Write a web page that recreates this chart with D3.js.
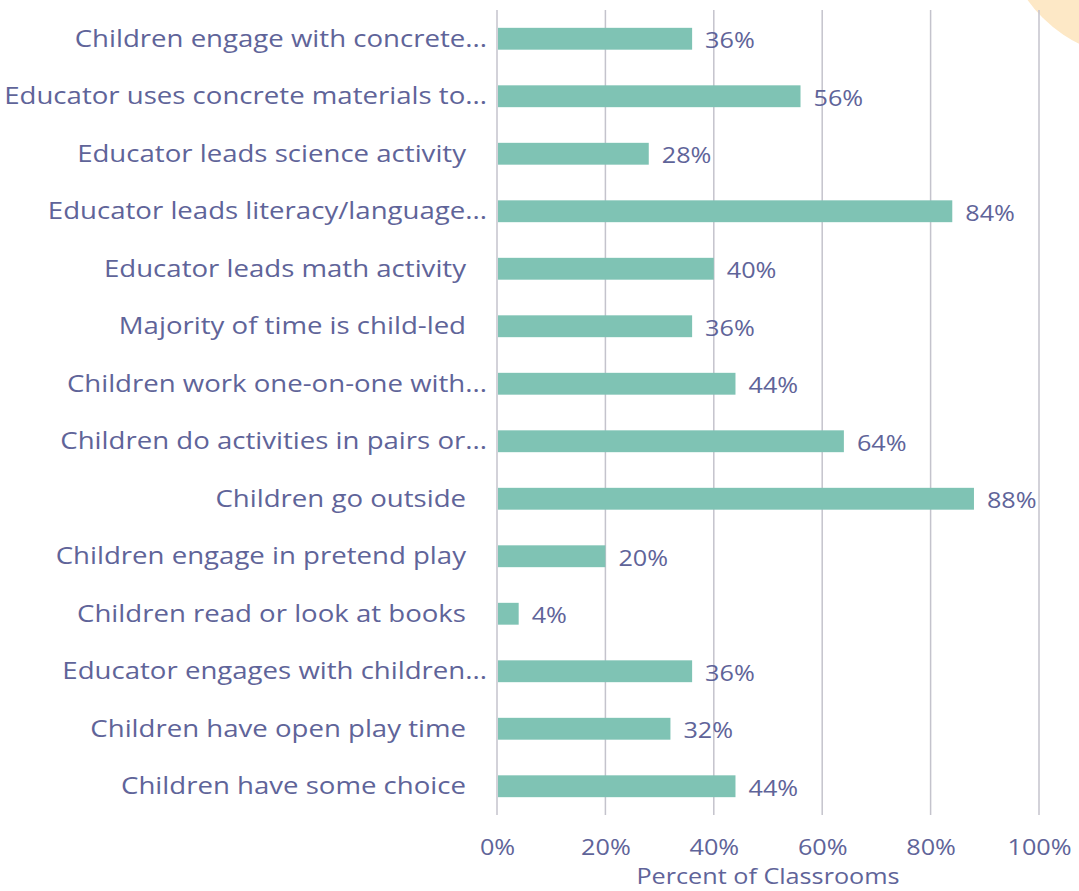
<!DOCTYPE html>
<html>
<head>
<meta charset="utf-8">
<script src="https://cdn.jsdelivr.net/npm/d3@7.9.0/dist/d3.min.js"></script>
<style>
  body { margin: 0; background: #fff; }
  svg { display: block; font-family: "Open Sans", "Noto Sans", sans-serif; }
</style>
</head>
<body>
<svg id="chart" width="1079" height="891"></svg>
<script>
const categories = [
  'Children engage with concrete...',
  'Educator uses concrete materials to...',
  'Educator leads science activity',
  'Educator leads literacy/language...',
  'Educator leads math activity',
  'Majority of time is child-led',
  'Children work one-on-one with...',
  'Children do activities in pairs or...',
  'Children go outside',
  'Children engage in pretend play',
  'Children read or look at books',
  'Educator engages with children...',
  'Children have open play time',
  'Children have some choice'
];
const percents = [36, 56, 28, 84, 40, 36, 44, 64, 88, 20, 4, 36, 32, 44];
const xTicks = [0, 20, 40, 60, 80, 100];

const textColor = '#5f6499';
const stretch = 1.2; // the source font is wide, fake it with a horizontal stretch
const svg = d3.select('#chart');

// peach decoration in top-right corner
svg.append('circle')
  .attr('cx', 1140).attr('cy', -80).attr('r', 138)
  .attr('fill', '#fde8c6');

const x = d3.scaleLinear().domain([0, 100]).range([497, 1039]);
const y = d3.scaleBand().domain(categories).range([10, 815]).paddingInner(0.62).paddingOuter(0.31);

// gridlines
svg.append('g')
  .selectAll('line')
  .data(xTicks)
  .join('line')
  .attr('x1', d => x(d)).attr('x2', d => x(d))
  .attr('y1', 10).attr('y2', 815)
  .attr('stroke', '#c4c3cc')
  .attr('stroke-width', 1.5);

// bars
svg.append('g')
  .selectAll('rect')
  .data(percents)
  .join('rect')
  .attr('x', x(0) + 1)
  .attr('y', (d, i) => y(categories[i]))
  .attr('width', d => x(d) - x(0) - 1)
  .attr('height', y.bandwidth())
  .attr('fill', '#7fc3b4');

// value labels
svg.append('g')
  .selectAll('text')
  .data(percents)
  .join('text')
  .attr('transform', (d, i) => `translate(${x(d) + 13},${y(categories[i]) + y.bandwidth() / 2 + 2}) scale(${stretch},1)`)
  .attr('dy', '0.35em')
  .attr('fill', textColor)
  .attr('font-size', 21)
  .text(d => d + '%');

// category labels
svg.append('g')
  .selectAll('text')
  .data(categories)
  .join('text')
  .attr('transform', d => `translate(${d.endsWith('...') ? 487 : 466},${y(d) + y.bandwidth() / 2}) scale(${stretch},1)`)
  .attr('dy', '0.35em')
  .attr('text-anchor', 'end')
  .attr('fill', textColor)
  .attr('font-size', 23)
  .text(d => d);

// x axis
const xAxis = svg.append('g')
  .attr('transform', 'translate(0,833)')
  .call(d3.axisBottom(x).tickValues(xTicks).tickFormat(d => d + '%').tickSize(0).tickPadding(7));
xAxis.select('.domain').remove();
xAxis.selectAll('text')
  .attr('transform', `scale(${stretch},1)`)
  .attr('fill', textColor)
  .attr('font-size', 21)
  .attr('font-family', '"Open Sans", "Noto Sans", sans-serif');

svg.append('text')
  .attr('transform', `translate(${(x(0) + x(100)) / 2},884) scale(${stretch},1)`)
  .attr('text-anchor', 'middle')
  .attr('fill', textColor)
  .attr('font-size', 21)
  .text('Percent of Classrooms');
</script>
</body>
</html>
